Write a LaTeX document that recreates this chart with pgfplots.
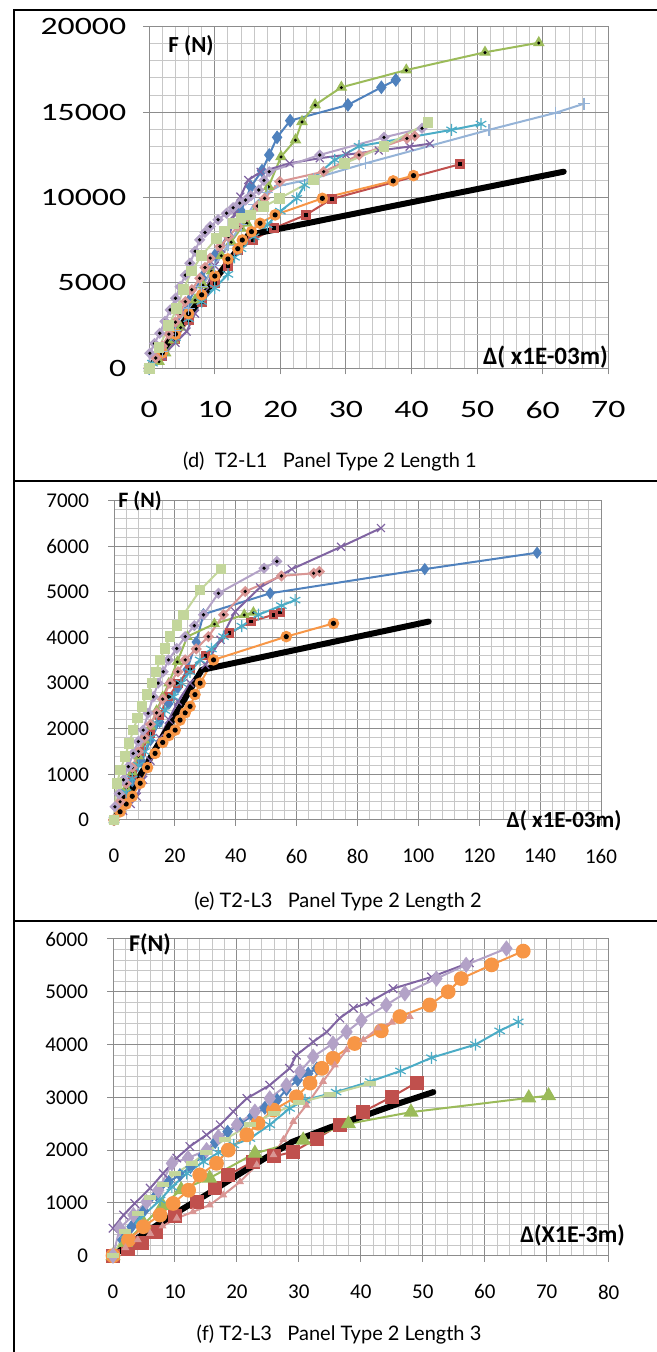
\documentclass[border=0pt]{standalone}
\usepackage{fontspec}
\setmainfont{Carlito}
\newfontfamily\capfont{Lato}
\usepackage{graphicx}
\usepackage{pgfplots}
\pgfplotsset{compat=1.18}

\definecolor{cblue}{HTML}{4F81BD}
\definecolor{cred}{HTML}{C0504D}
\definecolor{cgreen}{HTML}{9BBB59}
\definecolor{cpurple}{HTML}{8064A2}
\definecolor{ccyan}{HTML}{4BACC6}
\definecolor{corange}{HTML}{F79646}
\definecolor{clblue}{HTML}{95B3D7}
\definecolor{cpink}{HTML}{D99694}
\definecolor{clav}{HTML}{B3A2C7}
\definecolor{clgreen}{HTML}{C3D69B}

\pgfdeclareplotmark{ddiamond}{%
  \pgfpathmoveto{\pgfqpoint{0pt}{\pgfplotmarksize}}%
  \pgfpathlineto{\pgfqpoint{\pgfplotmarksize}{0pt}}%
  \pgfpathlineto{\pgfqpoint{0pt}{-\pgfplotmarksize}}%
  \pgfpathlineto{\pgfqpoint{-\pgfplotmarksize}{0pt}}%
  \pgfpathclose\pgfusepathqfillstroke
  \begin{pgfscope}\pgfsetfillcolor{black}%
  \pgfpathcircle{\pgfpointorigin}{0.38\pgfplotmarksize}\pgfusepathqfill\end{pgfscope}}
\pgfdeclareplotmark{dsquare}{%
  \pgfpathrectangle{\pgfqpoint{-\pgfplotmarksize}{-\pgfplotmarksize}}{\pgfqpoint{2\pgfplotmarksize}{2\pgfplotmarksize}}%
  \pgfusepathqfillstroke
  \begin{pgfscope}\pgfsetfillcolor{black}%
  \pgfpathrectangle{\pgfqpoint{-0.45\pgfplotmarksize}{-0.45\pgfplotmarksize}}{\pgfqpoint{0.9\pgfplotmarksize}{0.9\pgfplotmarksize}}\pgfusepathqfill\end{pgfscope}}
\pgfdeclareplotmark{dcircle}{%
  \pgfpathcircle{\pgfpointorigin}{\pgfplotmarksize}\pgfusepathqfillstroke
  \begin{pgfscope}\pgfsetfillcolor{black}%
  \pgfpathcircle{\pgfpointorigin}{0.5\pgfplotmarksize}\pgfusepathqfill\end{pgfscope}}
\pgfdeclareplotmark{dtriangle}{%
  \pgfpathmoveto{\pgfqpoint{0pt}{\pgfplotmarksize}}%
  \pgfpathlineto{\pgfqpoint{0.866\pgfplotmarksize}{-0.5\pgfplotmarksize}}%
  \pgfpathlineto{\pgfqpoint{-0.866\pgfplotmarksize}{-0.5\pgfplotmarksize}}%
  \pgfpathclose\pgfusepathqfillstroke
  \begin{pgfscope}\pgfsetfillcolor{black}%
  \pgfpathcircle{\pgfqpoint{0pt}{-0.05\pgfplotmarksize}}{0.3\pgfplotmarksize}\pgfusepathqfill\end{pgfscope}}

\pgfplotsset{
  s/.style={line width=1pt, color=#1, mark options={solid, fill=#1, draw=#1, line width=0.6pt}},
  blk/.style={line width=3pt, color=black, no markers, line join=round, line cap=round},
  panel/.style={
    scale only axis, anchor=south west, clip=false,
    grid=both,
    major grid style={color=black!45, line width=0.5pt},
    minor grid style={color=black!22, line width=0.45pt},
    axis line style={color=black!45, line width=0.5pt},
    tick align=outside, xtick pos=bottom, ytick pos=left,
    major tick length=3pt, minor tick length=0pt,
    tick style={color=black!45, line width=0.5pt},
    minor x tick num=4, minor y tick num=4,
    scaled ticks=false,
    /pgf/number format/1000 sep={},
    /pgf/number format/fixed,
    /pgf/number format/assume math mode=true,
  },
}

\begin{document}
\begin{tikzpicture}
\path[use as bounding box] (0pt,0pt) rectangle (328.5pt,676pt);
% frames
\draw[line width=1pt] (7pt,0pt) -- (7pt,671pt) -- (328.5pt,671pt);
\draw[line width=1pt] (7pt,435.5pt) -- (328.5pt,435.5pt);
\draw[line width=1pt] (7pt,215.5pt) -- (328.5pt,215.5pt);

% ================= Panel 1 =================
\begin{axis}[panel, at={(74.6pt,491.85pt)}, width=229.55pt, height=170.8pt,
  xmin=0, xmax=70, ymin=0, ymax=20000,
  xtick={0,10,...,70}, ytick={0,5000,10000,15000,20000},
  ticklabel style={font=\fontsize{12.5}{13}\selectfont},
  yticklabel={\scalebox{1.35}[1]{\pgfmathprintnumber{\tick}}},
  xticklabel={\scalebox{1.35}[1]{\pgfmathprintnumber{\tick}}},
  yticklabel style={xshift=-5pt},
  xticklabel style={yshift=-10pt},
]
\addplot[s=cblue, mark=diamond*, mark size=3pt] coordinates {
(0,0)(2,1100)(4,2500)(6,3900)(8,5300)(10,6600)(12,7800)(14,9200)(15.5,10630)(17.2,11570)(18.3,12490)(19.5,13520)(21.5,14500)(30.3,15420)(35.4,16450)(37.6,16880)};
\addplot[s=cred, mark=dsquare, mark size=2.2pt] coordinates {
(0,0)(2,700)(4,1700)(6,2800)(8,3900)(10,5000)(12,6000)(13.5,6900)(15.8,7500)(19,8200)(23.9,8980)(27.8,9910)(47.4,11950)};
\addplot[s=cgreen, mark=dtriangle, mark size=2.8pt] coordinates {
(0,0)(1.5,400)(2.5,900)(3.7,1660)(4.8,2400)(6,3220)(7,4000)(8.2,4880)(9.5,5700)(11,6600)(12.5,7400)(14,8200)(14.9,8500)(16.6,9470)(18.2,10640)(20.1,12390)(22.3,13370)(23.3,14440)(25.3,15420)(29.3,16450)(39.2,17460)(51.2,18500)(59.4,19060)};
\addplot[s=cpurple, mark=x, mark size=2.8pt] coordinates {
(0,0)(2,700)(4,1500)(5.7,2150)(7,3200)(8.5,4500)(10,6000)(11,7000)(12,7900)(13,9000)(13.9,10050)(15.1,11020)(17,11500)(21.4,12000)(26,12300)(30,12500)(35,12750)(39.7,12980)(42.8,13150)};
\addplot[s=ccyan, mark=asterisk, mark size=3pt] coordinates {
(0,0)(0.5,300)(2,900)(4,1800)(6,2900)(8,3900)(10,4700)(12,5500)(13,6500)(14,7000)(16,7700)(18,8400)(20,9200)(22.5,9950)(23.7,10730)(28.3,12200)(32,13000)(46.1,13960)(50.6,14300)};
\addplot[s=corange, mark=dcircle, mark size=2.6pt] coordinates {
(0,0)(2,900)(4,2000)(6,3200)(8,4300)(10,5400)(12,6400)(13.5,7000)(14.2,7510)(15.6,8000)(16.9,8490)(19.2,8980)(26.4,9950)(37.2,10970)(40.3,11280)};
\addplot[s=clblue, mark=+, mark size=3pt] coordinates {
(0,0)(2,1000)(4,2200)(6,3500)(8,4800)(10,6000)(12,7200)(14,8400)(16,9600)(18,10300)(20,10700)(25,11100)(33,12000)(51.8,13960)(61.9,14950)(66.3,15490)};
\addplot[s=cpink, mark=ddiamond, mark size=2.4pt] coordinates {
(0,0)(1,600)(2,1300)(3,2000)(4,2700)(4.7,3220)(5.5,3900)(6.5,4600)(7.7,5270)(8.5,5900)(9.3,6450)(10.8,7130)(12.1,7710)(13.5,8300)(15,8900)(16.5,9500)(17.6,9950)(19.9,10930)(26.6,11510)(32,12490)(39.3,13460)(40.5,13600)};
\addplot[s=clav, mark=ddiamond, mark size=2.4pt] coordinates {
(0,0)(0.1,880)(0.8,1450)(1.6,2050)(2.4,2750)(3.2,3420)(4,4100)(4.7,4780)(5.5,5450)(6.2,6150)(7,6850)(7.7,7520)(8.5,7950)(9.3,8300)(10.5,8700)(11.8,9080)(12.8,9400)(13.8,9670)(14.7,9850)(15.5,10100)(16.7,10440)(17.5,11000)(18.3,11510)(26,12490)(35.8,13520)(41.6,14050)};
\addplot[s=clgreen, mark=square*, mark size=2.4pt] coordinates {
(0,0)(1.5,1200)(3,2500)(4.2,3500)(5.2,4600)(6.5,5700)(8,6600)(10.3,7620)(11.5,8000)(12.8,8500)(14,8800)(15.4,8980)(17.4,9460)(19.9,9950)(25,11020)(29.8,12000)(35.8,12980)(42.5,14380)};
\addplot[blk] coordinates {(0,0)(15.1,7800)(63.2,11510)};
\end{axis}
\node[font=\bfseries\fontsize{11.5}{12}\selectfont] at (95.5pt,653pt) {F (N)};
\node[font=\bfseries\fontsize{12.5}{13}\selectfont, anchor=east, inner sep=0pt] at (304.15pt,497.65pt) {Δ( x1E-03m)};
\node[font=\capfont\fontsize{10}{11}\selectfont] at (165pt,445pt) {(d)\ \ T2-L1\ \ \ Panel Type 2 Length 1};

% ================= Panel 2 =================
\begin{axis}[panel, at={(57pt,266pt)}, width=243.5pt, height=159.65pt,
  xmin=0, xmax=160, ymin=0, ymax=7000,
  xtick={0,20,...,160}, ytick={0,1000,...,7000},
  ticklabel style={font=\fontsize{10.5}{11}\selectfont},
  yticklabel style={xshift=-6pt},
  xticklabel style={yshift=-8pt},
]
\addplot[s=cblue, mark=diamond*, mark size=2.6pt] coordinates {
(0,0)(3,400)(6,850)(9,1300)(12,1750)(15,2150)(18,2550)(21,2900)(24,3300)(27,3900)(29.4,4510)(51.3,4970)(102.1,5500)(139,5860)};
\addplot[s=cred, mark=dsquare, mark size=2pt] coordinates {
(0,0)(3,500)(6,1000)(9,1500)(12,1900)(15,2300)(18,2700)(21,3000)(25,3300)(30,3600)(38,4100)(45,4350)(52.4,4500)(54.6,4550)};
\addplot[s=cgreen, mark=dtriangle, mark size=2.6pt] coordinates {
(0,0)(2,350)(4,700)(6,1050)(8,1400)(10,1750)(12,2050)(14,2400)(16,2700)(18,3000)(20.8,3470)(24.1,4020)(33,4300)(42.8,4500)(45.8,4550)};
\addplot[s=cpurple, mark=x, mark size=2.8pt] coordinates {
(0,0)(3,200)(5.5,350)(7.5,510)(9.6,880)(12,1300)(15,1800)(18,2200)(21,2600)(25,3000)(30,3400)(35,3950)(39.8,4570)(48,5100)(58.4,5500)(74.6,5990)(87.7,6400)};
\addplot[s=ccyan, mark=asterisk, mark size=3pt] coordinates {
(0,0)(2,300)(4,600)(6,900)(8,1200)(10,1500)(12,1800)(14,2120)(16.7,2400)(19.5,2700)(22,3000)(25,3250)(28.3,3510)(32,3750)(36,4020)(42,4250)(47.5,4500)(55,4700)(59.5,4820)};
\addplot[s=corange, mark=dcircle, mark size=2.6pt] coordinates {
(0,0)(2,180)(4,350)(6,520)(8.6,805)(11,1150)(13.5,1460)(16,1700)(18,1850)(20.1,1970)(21.7,2190)(23.4,2350)(25,2490)(26.6,2750)(28.3,3000)(32.7,3510)(56.6,4020)(72.1,4310)};
\addplot[s=cpink, mark=ddiamond, mark size=2.4pt] coordinates {
(0,0)(2,400)(4,800)(6,1150)(8,1500)(10,1800)(12,2100)(14,2350)(16,2650)(18.4,3000)(21,3250)(23.4,3510)(27,3750)(31,4020)(36,4500)(43.1,5010)(55,5350)(65.6,5410)(67.5,5450)};
\addplot[s=clav, mark=ddiamond, mark size=2.4pt] coordinates {
(0,0)(0.3,290)(1.7,580)(3.1,880)(4.7,1170)(6.3,1460)(8,1720)(9.6,1970)(11.2,2340)(12.9,2700)(14.5,3000)(16.2,3250)(17.9,3510)(20.6,3760)(23.4,4020)(26.4,4260)(29.4,4500)(34.3,4970)(49.3,5520)(53.5,5670)};
\addplot[s=clgreen, mark=square*, mark size=2.3pt] coordinates {
(0,0)(0.9,800)(2.2,1100)(3.6,1390)(5,1680)(6.3,1970)(7.7,2230)(9.1,2490)(10.8,2750)(12.4,3000)(13.8,3250)(15.1,3510)(16.7,3760)(18.4,4020)(20.6,4260)(22.8,4500)(28.3,5040)(35.1,5500)};
\addplot[blk] coordinates {(0,0)(28.8,3290)(103.4,4350)};
\end{axis}
\node[font=\bfseries\fontsize{11}{12}\selectfont] at (70pt,425.5pt) {F (N)};
\node[font=\bfseries\fontsize{11.5}{12}\selectfont] at (282pt,265.75pt) {Δ( x1E-03m)};
\node[font=\capfont\fontsize{10}{11}\selectfont] at (169pt,225pt) {(e) T2-L3\ \ \ Panel Type 2 Length 2};

% ================= Panel 3 =================
\begin{axis}[panel, at={(56.5pt,48.15pt)}, width=247.85pt, height=158.35pt,
  xmin=0, xmax=80, ymin=0, ymax=6000,
  xtick={0,10,...,80}, ytick={0,1000,...,6000},
  ticklabel style={font=\fontsize{10.5}{11}\selectfont},
  yticklabel style={xshift=-6pt},
  xticklabel style={yshift=-8pt},
]
\addplot[s=cblue, mark=diamond*, mark size=3pt] coordinates {
(0,0)(1.5,300)(3,550)(5,850)(7,1150)(9,1400)(10.8,1530)(12.5,1680)(14.5,1900)(16.5,2150)(18.5,2350)(20.5,2500)(22.5,2650)(24.5,2800)(26.5,2950)(28,3150)(29.8,3330)(31.5,3450)(32.9,3550)};
\addplot[s=cred, mark=square*, mark size=3.2pt] coordinates {
(0,0)(2.5,120)(4.6,240)(7,450)(10,750)(13.5,1020)(16.5,1280)(18.6,1530)(22.6,1780)(26,1880)(29.1,1970)(32.9,2220)(36.6,2480)(40.4,2730)(45,3010)(49,3280)};
\addplot[s=cgreen, mark=triangle*, mark size=3.8pt] coordinates {
(0,0)(2,250)(5,600)(8,950)(11,1250)(15.6,1470)(22.9,1940)(30.7,2190)(38,2500)(48.1,2720)(67.1,2990)(70.3,3030)};
\addplot[s=cpurple, mark=x, mark size=3pt] coordinates {
(0,520)(1.7,770)(3.5,990)(6,1280)(8.1,1560)(10.3,1850)(12.4,2070)(15.1,2290)(17.3,2480)(19.4,2730)(21.6,2980)(25.3,3230)(28.5,3550)(29.6,3800)(32.3,4050)(34.5,4240)(36.6,4500)(38.8,4690)(41.5,4810)(45.2,5060)(51.4,5280)(57.5,5550)};
\addplot[s=ccyan, mark=asterisk, mark size=3pt] coordinates {
(0,0)(2,400)(4.4,710)(7.6,1055)(9.5,1300)(11.9,1560)(14.6,1780)(17,1950)(19.5,2100)(22.1,2220)(25.3,2480)(28.5,2790)(31,2950)(36,3100)(41.5,3300)(46.4,3500)(51.4,3750)(58.5,4000)(62.4,4260)(65.4,4430)};
\addplot[s=corange, mark=*, mark size=3.4pt] coordinates {
(0,0)(2.5,300)(4.9,550)(7.6,770)(9.7,990)(12.2,1240)(14,1530)(16.7,1750)(18.6,2000)(21.6,2290)(23.4,2510)(25.9,2760)(29.6,3010)(31.8,3270)(33.7,3550)(35.5,3740)(39,4020)(43.3,4260)(46.3,4530)(51.1,4750)(54.1,5000)(56.2,5250)(61.1,5510)(66.2,5770)};
\addplot[s=cpink, mark=triangle*, mark size=1.7pt] coordinates {
(0,0)(2,150)(4,300)(6,420)(8,560)(10.3,710)(12.9,830)(15.6,960)(17.8,1150)(20.5,1400)(23.2,1720)(25.9,1910)(27.5,2200)(29.1,2540)(31.2,2850)(33.9,3300)(35.8,3610)(37.7,3900)(40.4,4090)(42.8,4310)(45,4420)(47.9,4530)};
\addplot[s=clav, mark=diamond*, mark size=3.6pt] coordinates {
(0,0)(1.1,520)(3.3,770)(5.4,1020)(7.3,1240)(9.5,1750)(12.1,1850)(15.1,2000)(17,2250)(20,2480)(22.9,2730)(25.3,2980)(28,3230)(30.2,3490)(32.3,3770)(35.5,4020)(37.7,4240)(40.1,4460)(44.1,4750)(47.1,4970)(52.2,5250)(57,5510)(63.5,5820)};
\addplot[s=clgreen, mark=-, mark size=3pt, mark options={line width=2.5pt}] coordinates {
(0,0)(2,450)(4,800)(6,1100)(8,1350)(10,1550)(12.7,1750)(15,1950)(18,2200)(22.1,2480)(26,2700)(30,2900)(35,3050)(41.5,3260)};
\addplot[blk] coordinates {(0,0)(5,420)(10,800)(15,1150)(20,1520)(25,1880)(29,2160)(35,2430)(41,2670)(46,2880)(51.7,3100)};
\end{axis}
\node[font=\bfseries\fontsize{12}{12}\selectfont] at (75pt,204pt) {F(N)};
\node[font=\bfseries\fontsize{12}{12}\selectfont] at (286.25pt,58.1pt) {Δ(X1E-3m)};
\node[font=\capfont\fontsize{10}{11}\selectfont] at (169.5pt,8.5pt) {(f) T2-L3\ \ \ Panel Type 2 Length 3};
\end{tikzpicture}
\end{document}
